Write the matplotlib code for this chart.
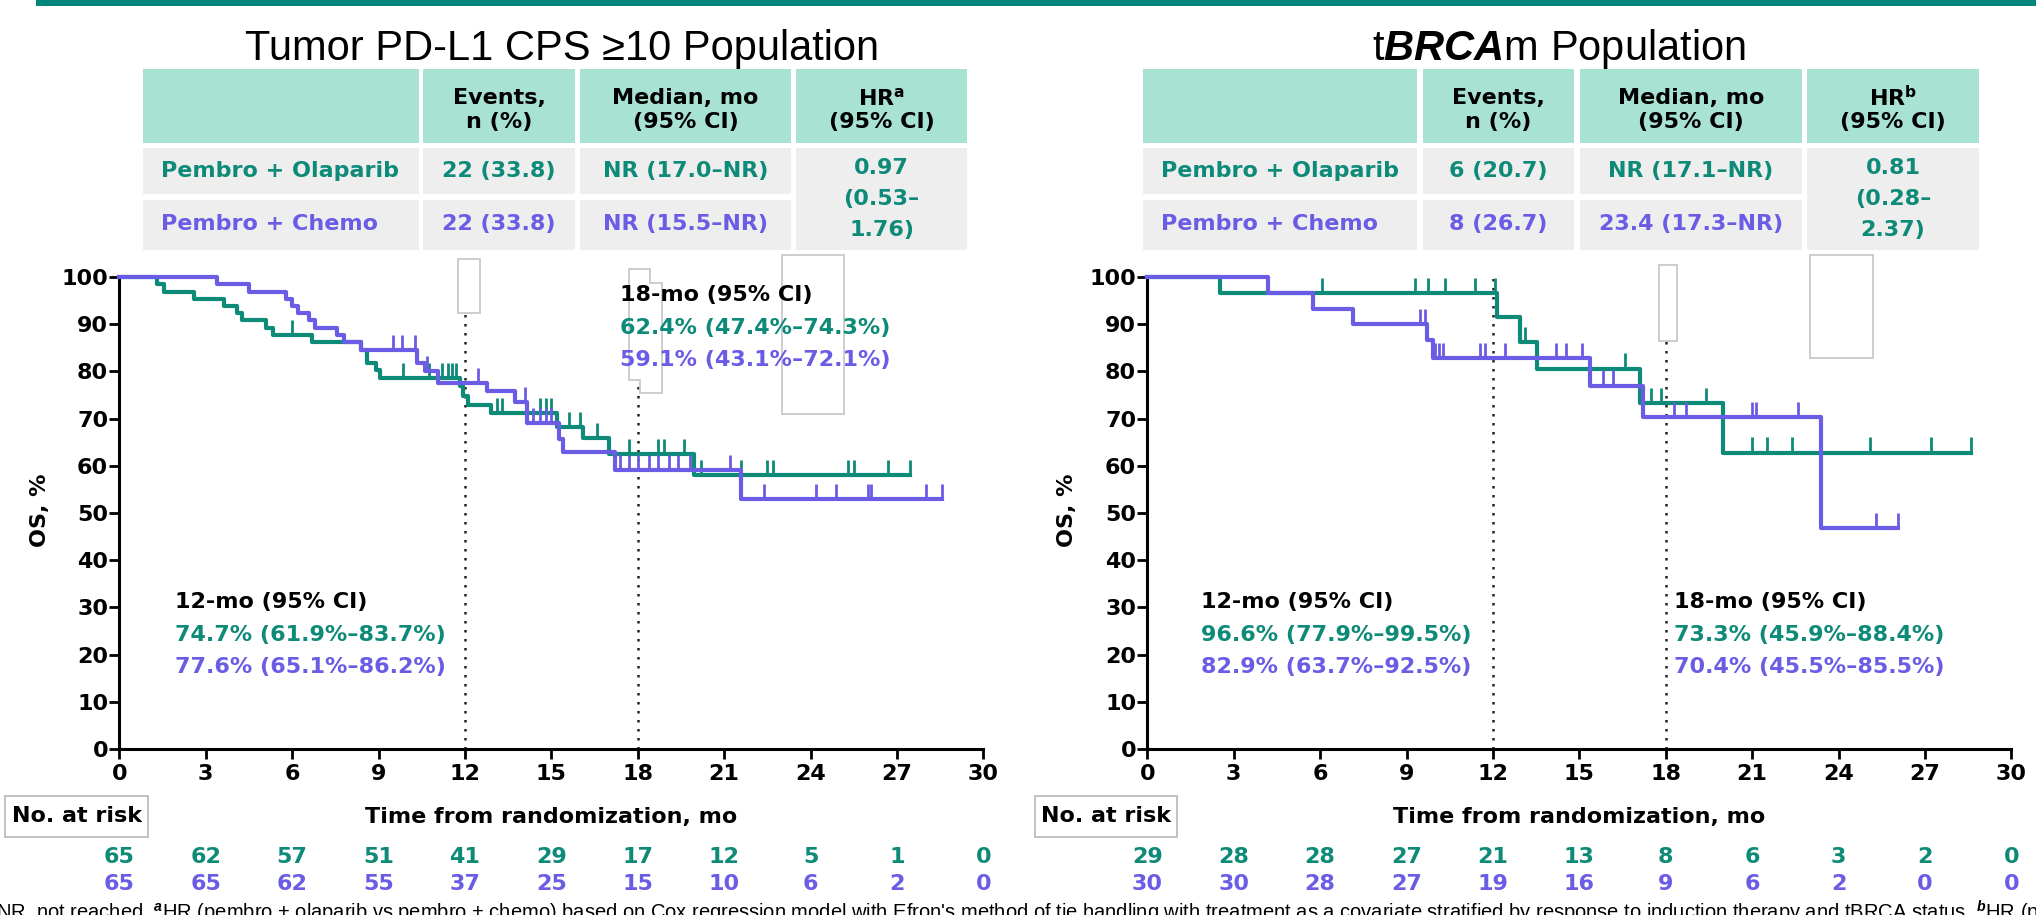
import numpy as np
import matplotlib.pyplot as plt
from matplotlib.patches import Rectangle, Polygon
from matplotlib.transforms import blended_transform_factory

plt.rcParams['font.family'] = 'DejaVu Sans'
plt.rcParams['font.weight'] = 'bold'
plt.rcParams['mathtext.fontset'] = 'custom'
plt.rcParams['mathtext.rm'] = 'Liberation Sans'
plt.rcParams['mathtext.it'] = 'Liberation Sans:italic'
plt.rcParams['mathtext.bf'] = 'DejaVu Sans:bold'

W, H = 2036, 915
TEAL = '#0e8a78'
PURPLE = '#6b5ce6'
HEAD_FILL = '#a8e2d3'
BODY_FILL = '#eeeeee'
FS = 16

# ---- data ----
months = np.arange(0, 31, 3)
arms = ["Pembro + Olaparib", "Pembro + Chemo"]

# PD-L1 CPS >= 10 population: step times (mo) and OS (%)
cps_ola_t = [0, 1.3, 1.55, 2.6, 3.65, 4.1, 4.25, 5.1, 5.35, 6.7, 8.4, 8.6, 8.9, 9.05,
             11.83, 11.95, 12.1, 12.9, 15.2, 16.1, 17.0, 19.95, 27.45]
cps_ola_s = [100, 98.5, 96.9, 95.4, 93.8, 92.3, 90.8, 89.2, 87.7, 86.2, 84.6, 81.8, 80.2, 78.5,
             76.9, 74.7, 72.9, 71.1, 68.3, 65.8, 62.4, 58.0, 58.0]
cps_chemo_t = [0, 3.4, 4.5, 5.8, 6.0, 6.2, 6.6, 6.8, 7.55, 7.8, 8.4, 10.33, 10.6, 11.08,
               12.76, 13.74, 14.14, 15.25, 15.42, 17.2, 21.6, 28.55]
cps_chemo_s = [100, 98.5, 96.9, 95.4, 93.8, 92.3, 90.8, 89.2, 87.7, 86.2, 84.6, 81.7, 80.0, 77.6,
               75.8, 73.5, 69.0, 65.6, 63.0, 59.1, 52.9, 52.9]
cps_ola_cens = [6.0, 9.85, 10.75, 11.2, 11.4, 11.55, 11.7, 13.1, 13.3, 14.6, 14.8, 15.0, 15.6,
                16.0, 16.6, 17.7, 18.7, 18.9, 19.6, 20.2, 21.6, 22.5, 22.7, 25.3, 25.5, 26.7, 27.45]
cps_chemo_cens = [9.5, 9.8, 10.25, 10.7, 12.45, 14.1, 14.35, 14.6, 14.8, 15.0, 17.4, 17.7, 18.0,
                  18.4, 18.7, 19.1, 19.4, 19.8, 21.2, 22.4, 24.2, 24.9, 26.0, 26.1, 28.0, 28.55]
cps_risk_ola = [65, 62, 57, 51, 41, 29, 17, 12, 5, 1, 0]
cps_risk_chemo = [65, 65, 62, 55, 37, 25, 15, 10, 6, 2, 0]
cps_events = ["22 (33.8)", "22 (33.8)"]
cps_median = ["NR (17.0–NR)", "NR (15.5–NR)"]
cps_hr = ["0.97", "(0.53–", "1.76)"]
cps_12mo = ["74.7% (61.9%–83.7%)", "77.6% (65.1%–86.2%)"]
cps_18mo = ["62.4% (47.4%–74.3%)", "59.1% (43.1%–72.1%)"]

# tBRCAm population
brca_ola_t = [0, 2.52, 12.13, 12.94, 13.52, 17.1, 20.0, 28.6]
brca_ola_s = [100, 96.6, 91.5, 86.3, 80.6, 73.3, 62.8, 62.8]
brca_chemo_t = [0, 4.2, 5.77, 7.15, 9.7, 9.93, 15.37, 17.2, 23.4, 26.05]
brca_chemo_s = [100, 96.7, 93.3, 90.0, 86.6, 82.9, 77.0, 70.4, 46.9, 46.9]
brca_ola_cens = [6.05, 9.3, 9.76, 10.34, 11.38, 12.07, 13.1, 16.6, 17.5, 17.85, 19.4, 21.0,
                 21.5, 22.4, 25.1, 27.2, 28.6]
brca_chemo_cens = [9.47, 9.64, 9.99, 10.12, 10.28, 11.55, 11.73, 12.42, 14.2, 14.55, 15.1,
                   15.83, 16.18, 18.3, 18.7, 21.0, 21.12, 22.6, 25.3, 26.05]
brca_risk_ola = [29, 28, 28, 27, 21, 13, 8, 6, 3, 2, 0]
brca_risk_chemo = [30, 30, 28, 27, 19, 16, 9, 6, 2, 0, 0]
brca_events = ["6 (20.7)", "8 (26.7)"]
brca_median = ["NR (17.1–NR)", "23.4 (17.3–NR)"]
brca_hr = ["0.81", "(0.28–", "2.37)"]
brca_12mo = ["96.6% (77.9%–99.5%)", "82.9% (63.7%–92.5%)"]
brca_18mo = ["73.3% (45.9%–88.4%)", "70.4% (45.5%–85.5%)"]

footnote = ("NR, not reached. $^{a}$HR (pembro + olaparib vs pembro + chemo) based on Cox regression "
            "model with Efron's method of tie handling with treatment as a covariate stratified by "
            "response to induction therapy and tBRCA status. $^{b}$HR (pembro + olaparib vs pembro + chemo)")


def fx(px):
    return px / W


def fy(py):
    return 1 - py / H


fig = plt.figure(figsize=(W / 100, H / 100), dpi=100)

# thin teal band along the top
fig.add_artist(Rectangle((fx(36), fy(6)), 1 - fx(36), 6 / H, facecolor='#00857c',
                         edgecolor='none', transform=fig.transFigure))


def level_at(ts, ss, t):
    idx = np.searchsorted(ts, t, side='right') - 1
    return np.asarray(ss)[idx]


def km_panel(ax, curves, cens):
    for (ts, ss), ct, col in zip(curves, cens, [TEAL, PURPLE]):
        ax.step(ts, ss, where='post', color=col, lw=3, clip_on=False, zorder=3)
        lv = level_at(ts, ss, ct)
        ax.vlines(ct, lv, lv + 3.2, colors=col, lw=2, zorder=3, clip_on=False)
    ax.set_xlim(0, 30)
    ax.set_ylim(0, 100)
    ax.set_xticks(months)
    ax.set_yticks(np.arange(0, 101, 10))
    for s in ('top', 'right'):
        ax.spines[s].set_visible(False)
    for s in ('left', 'bottom'):
        ax.spines[s].set_linewidth(2.2)
    ax.tick_params(axis='both', length=7, width=2, labelsize=FS, direction='out')
    ax.tick_params(axis='y', pad=1)
    ax.tick_params(axis='x', pad=4)
    for lab in ax.get_xticklabels() + ax.get_yticklabels():
        lab.set_fontweight('bold')


def landmark(ax, x, y, head, lines):
    ax.text(x, y, head, fontsize=FS, va='center', ha='left', color='black', zorder=5)
    for k, (txt, col) in enumerate(zip(lines, [TEAL, PURPLE])):
        ax.text(x, y - 6.9 * (k + 1), txt, fontsize=FS, va='center', ha='left', color=col, zorder=5)


def artifact(ax, pts):
    ax.add_patch(Polygon([(fx(px), fy(py)) for px, py in pts], closed=True, facecolor='white',
                         edgecolor='#c9c9c9', lw=1.3, transform=fig.transFigure, clip_on=False,
                         zorder=2))


def table(cols, header, events, median, hr):
    x0, x1, x2, x3, x4 = cols
    spans = [(x0, x1[0]), (x1[1], x2[0]), (x2[1], x3[0]), (x3[1], x4)]
    for a, b in spans:
        fig.add_artist(Rectangle((fx(a), fy(143)), (b - a) / W, 74 / H, facecolor=HEAD_FILL,
                                 edgecolor='none', transform=fig.transFigure))
    for a, b in spans[:3]:
        for top, bot in [(148, 194), (200, 250)]:
            fig.add_artist(Rectangle((fx(a), fy(bot)), (b - a) / W, (bot - top) / H,
                                     facecolor=BODY_FILL, edgecolor='none',
                                     transform=fig.transFigure))
    a, b = spans[3]
    fig.add_artist(Rectangle((fx(a), fy(250)), (b - a) / W, 102 / H, facecolor=BODY_FILL,
                             edgecolor='none', transform=fig.transFigure))
    for (a, b), lines in zip(spans[1:], header):
        for yy, txt in zip([98, 122], lines):
            fig.text(fx((a + b) / 2), fy(yy), txt, fontsize=FS, ha='center', va='center')
    for r, (yy, col) in enumerate(zip([171, 224], [TEAL, PURPLE])):
        fig.text(fx(x0 + 18), fy(yy), arms[r], fontsize=FS, ha='left', va='center', color=col)
        fig.text(fx(sum(spans[1]) / 2), fy(yy), events[r], fontsize=FS, ha='center',
                 va='center', color=col)
        fig.text(fx(sum(spans[2]) / 2), fy(yy), median[r], fontsize=FS, ha='center',
                 va='center', color=col)
    for yy, txt in zip([168, 199, 230], hr):
        fig.text(fx(sum(spans[3]) / 2), fy(yy), txt, fontsize=FS, ha='center', va='center',
                 color=TEAL)


def risk_rows(ax, box_x, rows):
    tr = blended_transform_factory(ax.transData, fig.transFigure)
    for yy, vals, col in zip([857, 884], rows, [TEAL, PURPLE]):
        for m, v in zip(months, vals):
            ax.text(m, fy(yy), str(v), transform=tr, fontsize=FS, ha='center', va='center',
                    color=col, clip_on=False)
    fig.add_artist(Rectangle((fx(box_x[0]), fy(837)), (box_x[1] - box_x[0]) / W, 41 / H,
                             facecolor='white', edgecolor='#bdbdbd', lw=1.3,
                             transform=fig.transFigure))
    fig.text(fx(sum(box_x) / 2), fy(816), "No. at risk", fontsize=FS, ha='center', va='center')
    ax.text(15, fy(817), "Time from randomization, mo", transform=tr, fontsize=FS,
            ha='center', va='center')


header_a = [["Events,", "n (%)"], ["Median, mo", "(95% CI)"], ["HR$^\\mathbf{a}$", "(95% CI)"]]
header_b = [["Events,", "n (%)"], ["Median, mo", "(95% CI)"], ["HR$^\\mathbf{b}$", "(95% CI)"]]

# ---- left panel: PD-L1 CPS >= 10 ----
ax1 = fig.add_axes([fx(119.3), fy(749), 864 / W, 472 / H])
km_panel(ax1, [(cps_ola_t, cps_ola_s), (cps_chemo_t, cps_chemo_s)],
         [cps_ola_cens, cps_chemo_cens])
for m in (12, 18):
    ax1.plot([m, m], [0, 100], color='#222222', lw=1.8, ls=(0, (1, 2.6)), zorder=1)
artifact(ax1, [(458, 259), (480, 259), (480, 313), (458, 313)])
artifact(ax1, [(629, 269), (650, 269), (650, 283), (662, 283), (662, 393), (640, 393),
               (640, 380), (629, 380)])
artifact(ax1, [(782, 255), (844, 255), (844, 414), (782, 414)])
landmark(ax1, 1.93, 31.1, "12-mo (95% CI)", cps_12mo)
landmark(ax1, 17.4, 96.2, "18-mo (95% CI)", cps_18mo)
fig.text(fx(40), fy(510), "OS, %", fontsize=FS, rotation=90, ha='center', va='center')
fig.text(fx(562), fy(60), "Tumor PD-L1 CPS ≥10 Population", fontsize=30, fontweight='normal',
         family='Liberation Sans', ha='center', va='baseline')
table((143, (419, 423), (575, 580), (791, 796), 967), header_a, cps_events, cps_median, cps_hr)
risk_rows(ax1, (5, 148), [cps_risk_ola, cps_risk_chemo])

# ---- right panel: tBRCAm ----
ax2 = fig.add_axes([fx(1147.3), fy(749), 864 / W, 472 / H])
km_panel(ax2, [(brca_ola_t, brca_ola_s), (brca_chemo_t, brca_chemo_s)],
         [brca_ola_cens, brca_chemo_cens])
for m in (12, 18):
    ax2.plot([m, m], [0, 100], color='#222222', lw=1.8, ls=(0, (1, 2.6)), zorder=1)
artifact(ax2, [(1659, 265), (1677, 265), (1677, 341), (1659, 341)])
artifact(ax2, [(1810, 255), (1873, 255), (1873, 358), (1810, 358)])
landmark(ax2, 1.87, 31.1, "12-mo (95% CI)", brca_12mo)
landmark(ax2, 18.3, 31.1, "18-mo (95% CI)", brca_18mo)
fig.text(fx(1067), fy(510), "OS, %", fontsize=FS, rotation=90, ha='center', va='center')
fig.text(fx(1559), fy(60), "t$\\mathit{BRCA}$m Population", fontsize=30, fontweight='normal',
         family='Liberation Sans', ha='center', va='baseline')
table((1143, (1417, 1423), (1574, 1580), (1802, 1807), 1979), header_b, brca_events,
      brca_median, brca_hr)
risk_rows(ax2, (1035, 1177), [brca_risk_ola, brca_risk_chemo])

# footnote runs off the bottom edge of the slide
fig.text(fx(-4), fy(919), footnote, fontsize=14.5, fontweight='normal', family='Liberation Sans',
         ha='left', va='baseline')

fig.savefig('out.png', dpi=100)
